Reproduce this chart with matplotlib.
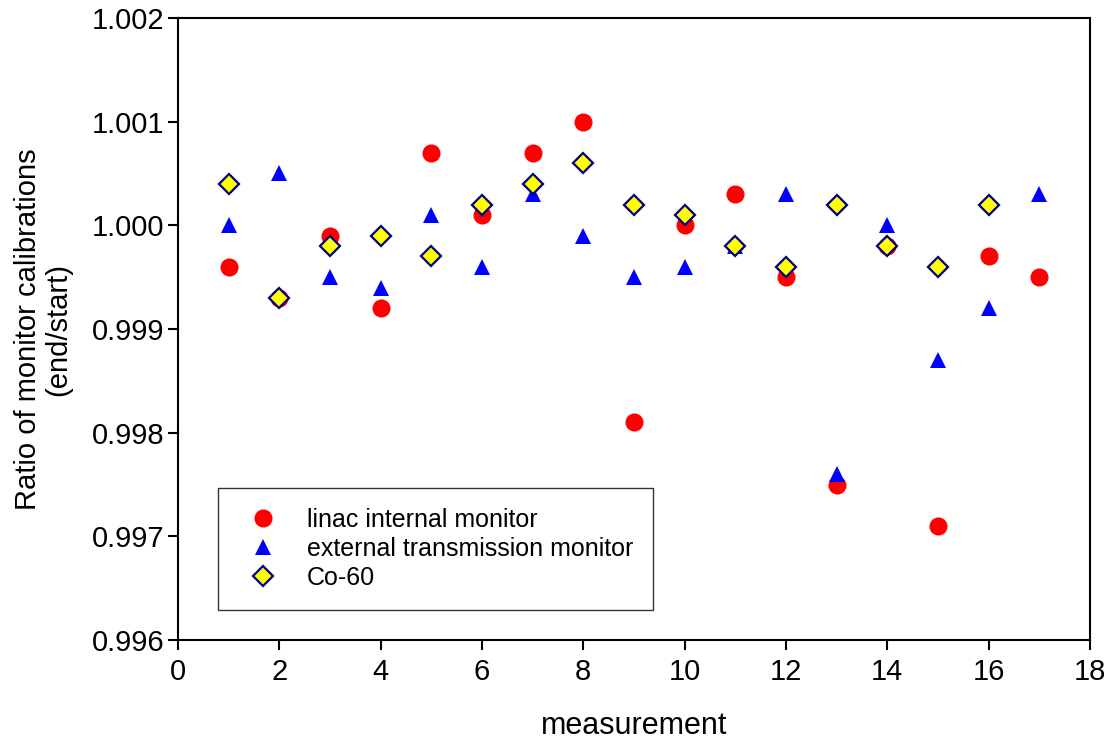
import matplotlib
matplotlib.use("Agg")
import matplotlib.pyplot as plt
from matplotlib.ticker import FormatStrFormatter

plt.rcParams["font.family"] = ["Liberation Sans", "DejaVu Sans"]

measurement = list(range(1, 18))
linac = [0.9996, 0.9993, 0.9999, 0.9992, 1.0007, 1.0001, 1.0007, 1.0010, 0.9981,
         1.0000, 1.0003, 0.9995, 0.9975, 0.9998, 0.9971, 0.9997, 0.9995]
external = [1.0000, 1.0005, 0.9995, 0.9994, 1.0001, 0.9996, 1.0003, 0.9999, 0.9995,
            0.9996, 0.9998, 1.0003, 0.9976, 1.0000, 0.9987, 0.9992, 1.0003]
co60_x = list(range(1, 17))
co60 = [1.0004, 0.9993, 0.9998, 0.9999, 0.9997, 1.0002, 1.0004, 1.0006, 1.0002,
        1.0001, 0.9998, 0.9996, 1.0002, 0.9998, 0.9996, 1.0002]

fig = plt.figure(figsize=(11.07, 7.40), dpi=100)
ax = fig.add_axes([0.1608, 0.1351, 0.8238, 0.8406])

ax.plot(measurement, linac, "o", color="#ff0000", markersize=13, markeredgewidth=0,
        label="linac internal monitor")
ax.plot(measurement, external, "^", color="#0000ff", markersize=12, markeredgewidth=0,
        label="external transmission monitor")
ax.plot(co60_x, co60, "D", markerfacecolor="#ffff00", markeredgecolor="#000080",
        markersize=10, markeredgewidth=1.6, linestyle="none", label="Co-60")

ax.set_xlim(0, 18)
ax.set_ylim(0.996, 1.002)
ax.set_xticks(range(0, 19, 2))
ax.set_yticks([0.996, 0.997, 0.998, 0.999, 1.000, 1.001, 1.002])
ax.yaxis.set_major_formatter(FormatStrFormatter("%.3f"))
ax.tick_params(direction="out", length=7, width=1.5, labelsize=21)
ax.tick_params(axis="y", pad=3)
ax.tick_params(axis="x", pad=6)
for sp in ax.spines.values():
    sp.set_linewidth(1.5)

ax.set_xlabel("measurement", fontsize=22, labelpad=18)
ax.set_ylabel("Ratio of monitor calibrations\n(end/start)", fontsize=21, labelpad=14,
              linespacing=1.1)

leg = ax.legend(loc="upper left", bbox_to_anchor=(0.044, 0.244), fontsize=18,
                frameon=True, fancybox=False, edgecolor="black", borderpad=0.8,
                handlelength=2.0, handletextpad=0.75, labelspacing=0.2,
                borderaxespad=0)
leg.get_frame().set_linewidth(1.0)

fig.savefig("out.png", dpi=100)
